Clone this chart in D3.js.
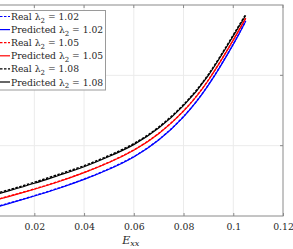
<!DOCTYPE html>
<html>
<head>
<meta charset="utf-8">
<script src="https://cdn.jsdelivr.net/npm/d3@7"></script>
<style>
  body { margin: 0; background: #fff; }
  svg { display: block; }
</style>
</head>
<body>
<svg id="chart" width="293" height="249"></svg>
<script>
const strain = [0, 0.01, 0.02, 0.03, 0.04, 0.05, 0.06, 0.07, 0.08, 0.09, 0.1, 0.105];
const pred102 = [0.08, 0.18, 0.284, 0.395, 0.52, 0.665, 0.84, 1.08, 1.41, 1.86, 2.44, 2.77];
const pred105 = [0.18, 0.28, 0.38, 0.49, 0.616, 0.76, 0.935, 1.17, 1.49, 1.93, 2.50, 2.81];
const pred108 = [0.26, 0.36, 0.465, 0.58, 0.70, 0.845, 1.015, 1.25, 1.57, 2.00, 2.56, 2.85];
const real102 = [0.085, 0.185, 0.288, 0.40, 0.525, 0.67, 0.845, 1.085, 1.415, 1.865, 2.445, 2.775];
const real105 = [0.185, 0.285, 0.385, 0.495, 0.62, 0.765, 0.94, 1.175, 1.495, 1.935, 2.505, 2.815];
const real108 = [0.275, 0.375, 0.48, 0.595, 0.715, 0.86, 1.03, 1.265, 1.585, 2.015, 2.575, 2.865];
const xTicks = [0.02, 0.04, 0.06, 0.08, 0.1, 0.12];
const yTicks = [1, 2];

const FONT = "DejaVu Serif";

const series = [
  { label: "Real", lam: "1.02", vals: real102, color: "#0000ff", dashed: true },
  { label: "Predicted", lam: "1.02", vals: pred102, color: "#0000ff", dashed: false },
  { label: "Real", lam: "1.05", vals: real105, color: "#ff0000", dashed: true },
  { label: "Predicted", lam: "1.05", vals: pred105, color: "#ff0000", dashed: false },
  { label: "Real", lam: "1.08", vals: real108, color: "#000000", dashed: true },
  { label: "Predicted", lam: "1.08", vals: pred108, color: "#000000", dashed: false },
];

const svg = d3.select("#chart");
const x = d3.scaleLinear().domain([0, 0.12]).range([-15.4, 283]);
const y = d3.scaleLinear().domain([0, 3]).range([216, 5]);

// grid
const g = svg.append("g");
g.selectAll("line.vg").data(xTicks.slice(0, -1)).enter().append("line")
  .attr("x1", (d) => x(d)).attr("x2", (d) => x(d))
  .attr("y1", y(0)).attr("y2", y(3))
  .attr("stroke", "#ebebeb").attr("stroke-width", 1);
g.selectAll("line.hg").data(yTicks).enter().append("line")
  .attr("x1", x(0)).attr("x2", x(0.12))
  .attr("y1", (d) => y(d)).attr("y2", (d) => y(d))
  .attr("stroke", "#ebebeb").attr("stroke-width", 1);

// curves
const line = d3.line()
  .x((d, i) => x(strain[i]))
  .y((d) => y(d))
  .curve(d3.curveNatural);

// predicted first, real dashed on top
const order = [1, 3, 5, 0, 2, 4];
order.forEach((k) => {
  const s = series[k];
  g.append("path")
    .attr("d", line(s.vals))
    .attr("fill", "none")
    .attr("stroke", s.color)
    .attr("stroke-width", s.dashed ? 1.4 : 1.2)
    .attr("stroke-dasharray", s.dashed ? "2.5,1.5" : null);
});

// axes box
const ax = svg.append("g");
ax.append("rect")
  .attr("x", x(0)).attr("y", y(3))
  .attr("width", x(0.12) - x(0)).attr("height", y(0) - y(3))
  .attr("fill", "none").attr("stroke", "#8a8a8a").attr("stroke-width", 1);

const xAxis = d3.axisBottom(x).tickValues(xTicks).tickSize(-3).tickPadding(7)
  .tickFormat((d) => d3.format("~g")(d));
const xg = ax.append("g").attr("transform", `translate(0,${y(0)})`).call(xAxis);
xg.attr("font-family", FONT);
xg.select(".domain").remove();
xg.selectAll("line").attr("stroke", "#8a8a8a");
xg.selectAll("text").attr("font-size", 9.3).attr("fill", "#262626");

// top ticks
ax.selectAll("line.tt").data(xTicks).enter().append("line")
  .attr("x1", (d) => x(d)).attr("x2", (d) => x(d))
  .attr("y1", y(3)).attr("y2", y(3) + 3).attr("stroke", "#8a8a8a");
// right ticks
ax.selectAll("line.rt").data(yTicks).enter().append("line")
  .attr("x1", x(0.12) - 3).attr("x2", x(0.12))
  .attr("y1", (d) => y(d)).attr("y2", (d) => y(d)).attr("stroke", "#8a8a8a");

// x label
const xl = svg.append("text")
  .attr("x", (x(0) + x(0.12)) / 2 - 3).attr("y", 244)
  .attr("text-anchor", "middle").attr("font-size", 11).attr("font-style", "italic")
  .attr("font-family", FONT).attr("fill", "#262626");
xl.append("tspan").text("E");
xl.append("tspan").attr("font-size", 8).attr("dy", 2).text("xx");

// legend
const leg = svg.append("g");
leg.append("rect")
  .attr("x", -5).attr("y", 10.5).attr("width", 110.5).attr("height", 79.5)
  .attr("fill", "#fff").attr("stroke", "#9a9a9a").attr("stroke-width", 1);
series.forEach((s, i) => {
  const yy = 16.5 + i * 13.1;
  leg.append("line")
    .attr("x1", 0).attr("x2", 10).attr("y1", yy).attr("y2", yy)
    .attr("stroke", s.color).attr("stroke-width", 1.2)
    .attr("stroke-dasharray", s.dashed ? "2.5,1.5" : null);
  const t = leg.append("text").attr("x", 11).attr("y", yy + 3.5).attr("font-size", 9.2)
    .attr("font-family", FONT).attr("fill", "#262626");
  t.append("tspan").text(s.label + " \u03bb");
  t.append("tspan").attr("font-size", 7).attr("dy", 2.5).text("2");
  t.append("tspan").attr("dy", -2.5).text(" = " + s.lam);
});
</script>
</body>
</html>
